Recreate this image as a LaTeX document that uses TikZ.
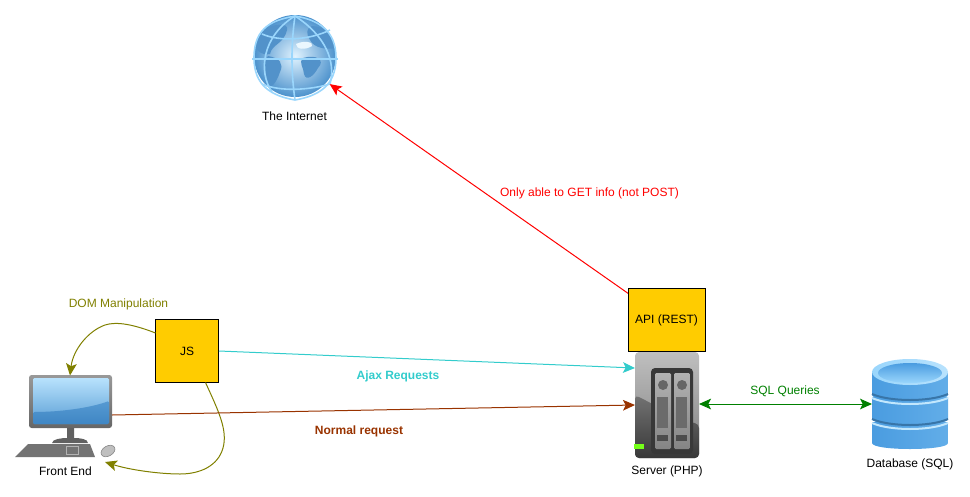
\documentclass[tikz,border=0pt]{standalone}
\usepackage{fontspec}
\setmainfont{Liberation Sans}
\usetikzlibrary{arrows.meta}
\definecolor{boxyellow}{HTML}{FFCC00}
\definecolor{ajaxcyan}{HTML}{33CCCC}
\definecolor{normalbrown}{HTML}{993300}
\definecolor{domolive}{HTML}{808000}
\definecolor{sqlgreen}{HTML}{008000}
\definecolor{gridblue}{HTML}{9AD6FC}
\definecolor{landblue}{HTML}{3F86C4}
\definecolor{dbblue}{HTML}{4A9CE0}
\tikzset{
    lbl/.style={font=\fontsize{9pt}{11pt}\selectfont, inner sep=0pt},
    boldlbl/.style={lbl, font=\fontsize{9pt}{11pt}\selectfont\bfseries},
    yellowbox/.style={draw=black, line width=0.75pt, fill=boxyellow, minimum size=47.25pt, inner sep=0pt, font=\fontsize{9pt}{11pt}\selectfont},
    icon/.style={inner sep=0pt, outer sep=0pt},
    tip/.tip={Stealth[length=9pt,width=8pt,inset=2pt]},
    conn/.style={line width=0.75pt, -tip},
    grid line/.style={draw=gridblue, line width=1.2pt}
}
\begin{document}
\begin{tikzpicture}[x=0.75pt,y=-0.75pt]
    \useasboundingbox (0,0) rectangle (970,496);

    % globe
    \shade[inner color=white!70!gridblue, outer color=landblue!85!gridblue] (295,56) circle (41);
    \begin{scope}
        \clip (295,58) circle (41);
        \fill[landblue!90!white] (255,36) .. controls (270,22) and (290,22) .. (287,30) .. controls (284,44) and (272,44) .. (270,54) .. controls (262,56) and (252,50) .. (255,36) -- cycle;
        \fill[landblue!90!white] (268,56) .. controls (280,58) and (284,64) .. (280,72) .. controls (276,84) and (270,90) .. (268,84) .. controls (266,74) and (262,62) .. (268,56) -- cycle;
        \fill[landblue!90!white] (303,58) .. controls (316,54) and (326,60) .. (318,68) .. controls (314,76) and (306,82) .. (304,74) .. controls (304,68) and (298,62) .. (303,58) -- cycle;
        \fill[landblue!90!white] (312,26) .. controls (324,26) and (336,36) .. (336,48) .. controls (326,50) and (314,48) .. (310,40) .. controls (306,34) and (306,28) .. (312,26) -- cycle;
        \fill[white!80!gridblue] (296,44) .. controls (304,40) and (314,42) .. (312,46) .. controls (306,50) and (296,50) .. (296,44) -- cycle;
    \end{scope}
    \draw[grid line] (254,58) .. controls (254,26) and (274,20) .. (295,16) .. controls (318,20) and (336,30) .. (336,58) .. controls (336,86) and (318,96) .. (295,100) .. controls (272,96) and (254,86) .. (254,58) -- cycle;
    \draw[grid line] (252,59) -- (338,59);
    \draw[grid line] (295,16) .. controls (291,44) and (291,72) .. (295,100);
    \draw[grid line] (295,16) .. controls (262,36) and (258,72) .. (272,92);
    \draw[grid line] (295,16) .. controls (326,36) and (336,62) .. (330,84);
    \draw[grid line] (262,34) .. controls (280,42) and (310,40) .. (330,30);
    \draw[grid line] (262,84) .. controls (280,92) and (310,90) .. (330,84);
    \node[icon, circle, minimum size=66pt] (globe) at (295,57) {};
    \node[lbl] (globeLbl) at (294.5,116) {The Internet};

    % monitor
    \fill[black!62] (52,443) .. controls (52,439) and (62,438) .. (67,438) -- (67,428) -- (74,428) -- (74,438) .. controls (80,438) and (88,439) .. (88,443) -- cycle;
    \shade[top color=black!40, bottom color=black!60, rounded corners=2pt] (29,375) rectangle (112,428);
    \shade[top color=white!30!gridblue, bottom color=landblue!70!gridblue, rounded corners=1pt] (33,378) rectangle (109,424);
    \shade[top color=landblue!75!gridblue, bottom color=landblue, rounded corners=1pt] (33,412) .. controls (60,412) and (90,408) .. (109,401) -- (109,424) -- (33,424) -- cycle;
    \fill[black!55] (28,444) -- (90,444) -- (95,457) -- (15,457) -- cycle;
    \draw[black!30, line width=0.5pt] (66,446) -- (78,446) -- (78,454) -- (66,454) -- cycle;
    \fill[black!25, draw=black!45, line width=0.5pt, rotate around={30:(108,451)}] (108,451) ellipse [x radius=7.5, y radius=5];
    \node[icon, minimum width=62.25pt, minimum height=39.75pt] (pc) at (70.5,401.5) {};
    \node[lbl] (pcLbl) at (65.5,471) {Front End};

    % server
    \shade[top color=black!25, bottom color=black!50, rounded corners=3pt] (635,352) rectangle (699,458);
    \shade[top color=black!55, bottom color=black!78, rounded corners=3pt] (635,395) .. controls (655,405) and (680,420) .. (699,424) -- (699,458) -- (635,458) -- cycle;
    \fill[black!78, rounded corners=3pt] (651,368) rectangle (693,454);
    \foreach \dx in {655,674}{
        \shade[top color=black!30, bottom color=black!48, rounded corners=1pt] (\dx,373) rectangle ++(16,76);
        \fill[black!60] (\dx+8,385) circle (5);
        \fill[black!58] (\dx+2,397) rectangle ++(11,31);
        \fill[black!70] (\dx+2,435) rectangle ++(11,6);
    }
    \fill[green!60!yellow!90!white] (634,444) rectangle (644,449);
    \node[icon, minimum width=48pt, minimum height=79.5pt] (server) at (667,405) {};
    \node[lbl] (serverLbl) at (667,471) {Server (PHP)};

    % database
    \foreach \yy/\hh in {422/21,397/22,372/23}{
        \shade[left color=dbblue, middle color=gridblue, right color=dbblue!70!gridblue]
            (872,\yy) -- (872,\yy+\hh) .. controls (872,\yy+\hh+8) and (948,\yy+\hh+8) .. (948,\yy+\hh) -- (948,\yy) -- cycle;
    }
    \draw[dbblue!75!black, line width=1.5pt] (872,419) .. controls (890,427) and (930,427) .. (948,419);
    \draw[white!40!gridblue, line width=1.5pt] (872,423) .. controls (890,431) and (930,431) .. (948,423);
    \draw[dbblue!75!black, line width=1.5pt] (872,394) .. controls (890,402) and (930,402) .. (948,394);
    \draw[white!40!gridblue, line width=1.5pt] (872,398) .. controls (890,406) and (930,406) .. (948,398);
    \shade[left color=gridblue, right color=white!30!gridblue] (910,372) ellipse [x radius=38, y radius=13];
    \shade[top color=dbblue, bottom color=gridblue] (910,373) ellipse [x radius=32, y radius=10];
    \node[icon, minimum width=57pt, minimum height=67.5pt] (db) at (910,404) {};
    \node[lbl] (dbLbl) at (910,464) {Database (SQL)};

    % boxes
    \draw[conn, red] (629,294) coordinate (apiEnd) -- (globe.-38);
    \node[yellowbox] (js) at (187,351) {JS};
    \node[yellowbox, minimum width=57.75pt] (api) at (666.5,320) {API (REST)};

    % connectors
    \draw[conn, domolive] (155.5,333) coordinate (jsTop) .. controls (135,325) and (117,321) .. (105,325) .. controls (88,331) and (73,350) .. (70,375.5);
    \draw[conn, domolive] (205.5,382.5) coordinate (jsBot) .. controls (218,410) and (228,430) .. (223,448) .. controls (218,466) and (200,474) .. (180,474) .. controls (160,474) and (130,470) .. (105,462);
    \draw[conn, ajaxcyan] (js.east) -- (server.west |- 0,368);
    \draw[conn, normalbrown] (pc.east |- 0,415) -- (server.west |- 0,405);
    \draw[line width=0.75pt, sqlgreen, tip-tip] (server.east |- 0,404) -- (db.west |- 0,404);

    % labels
    \node[lbl, text=domolive] (domLbl) at (118.5,304) {DOM Manipulation};
    \node[boldlbl, text=ajaxcyan] (ajaxLbl) at (398,376) {Ajax Requests};
    \node[boldlbl, text=normalbrown] (normalLbl) at (359,431) {Normal request};
    \node[lbl, text=red] (getLbl) at (589.5,193) {Only able to GET info (not POST)};
    \node[lbl, text=sqlgreen] (sqlLbl) at (785,391) {SQL Queries};
\end{tikzpicture}
\end{document}
